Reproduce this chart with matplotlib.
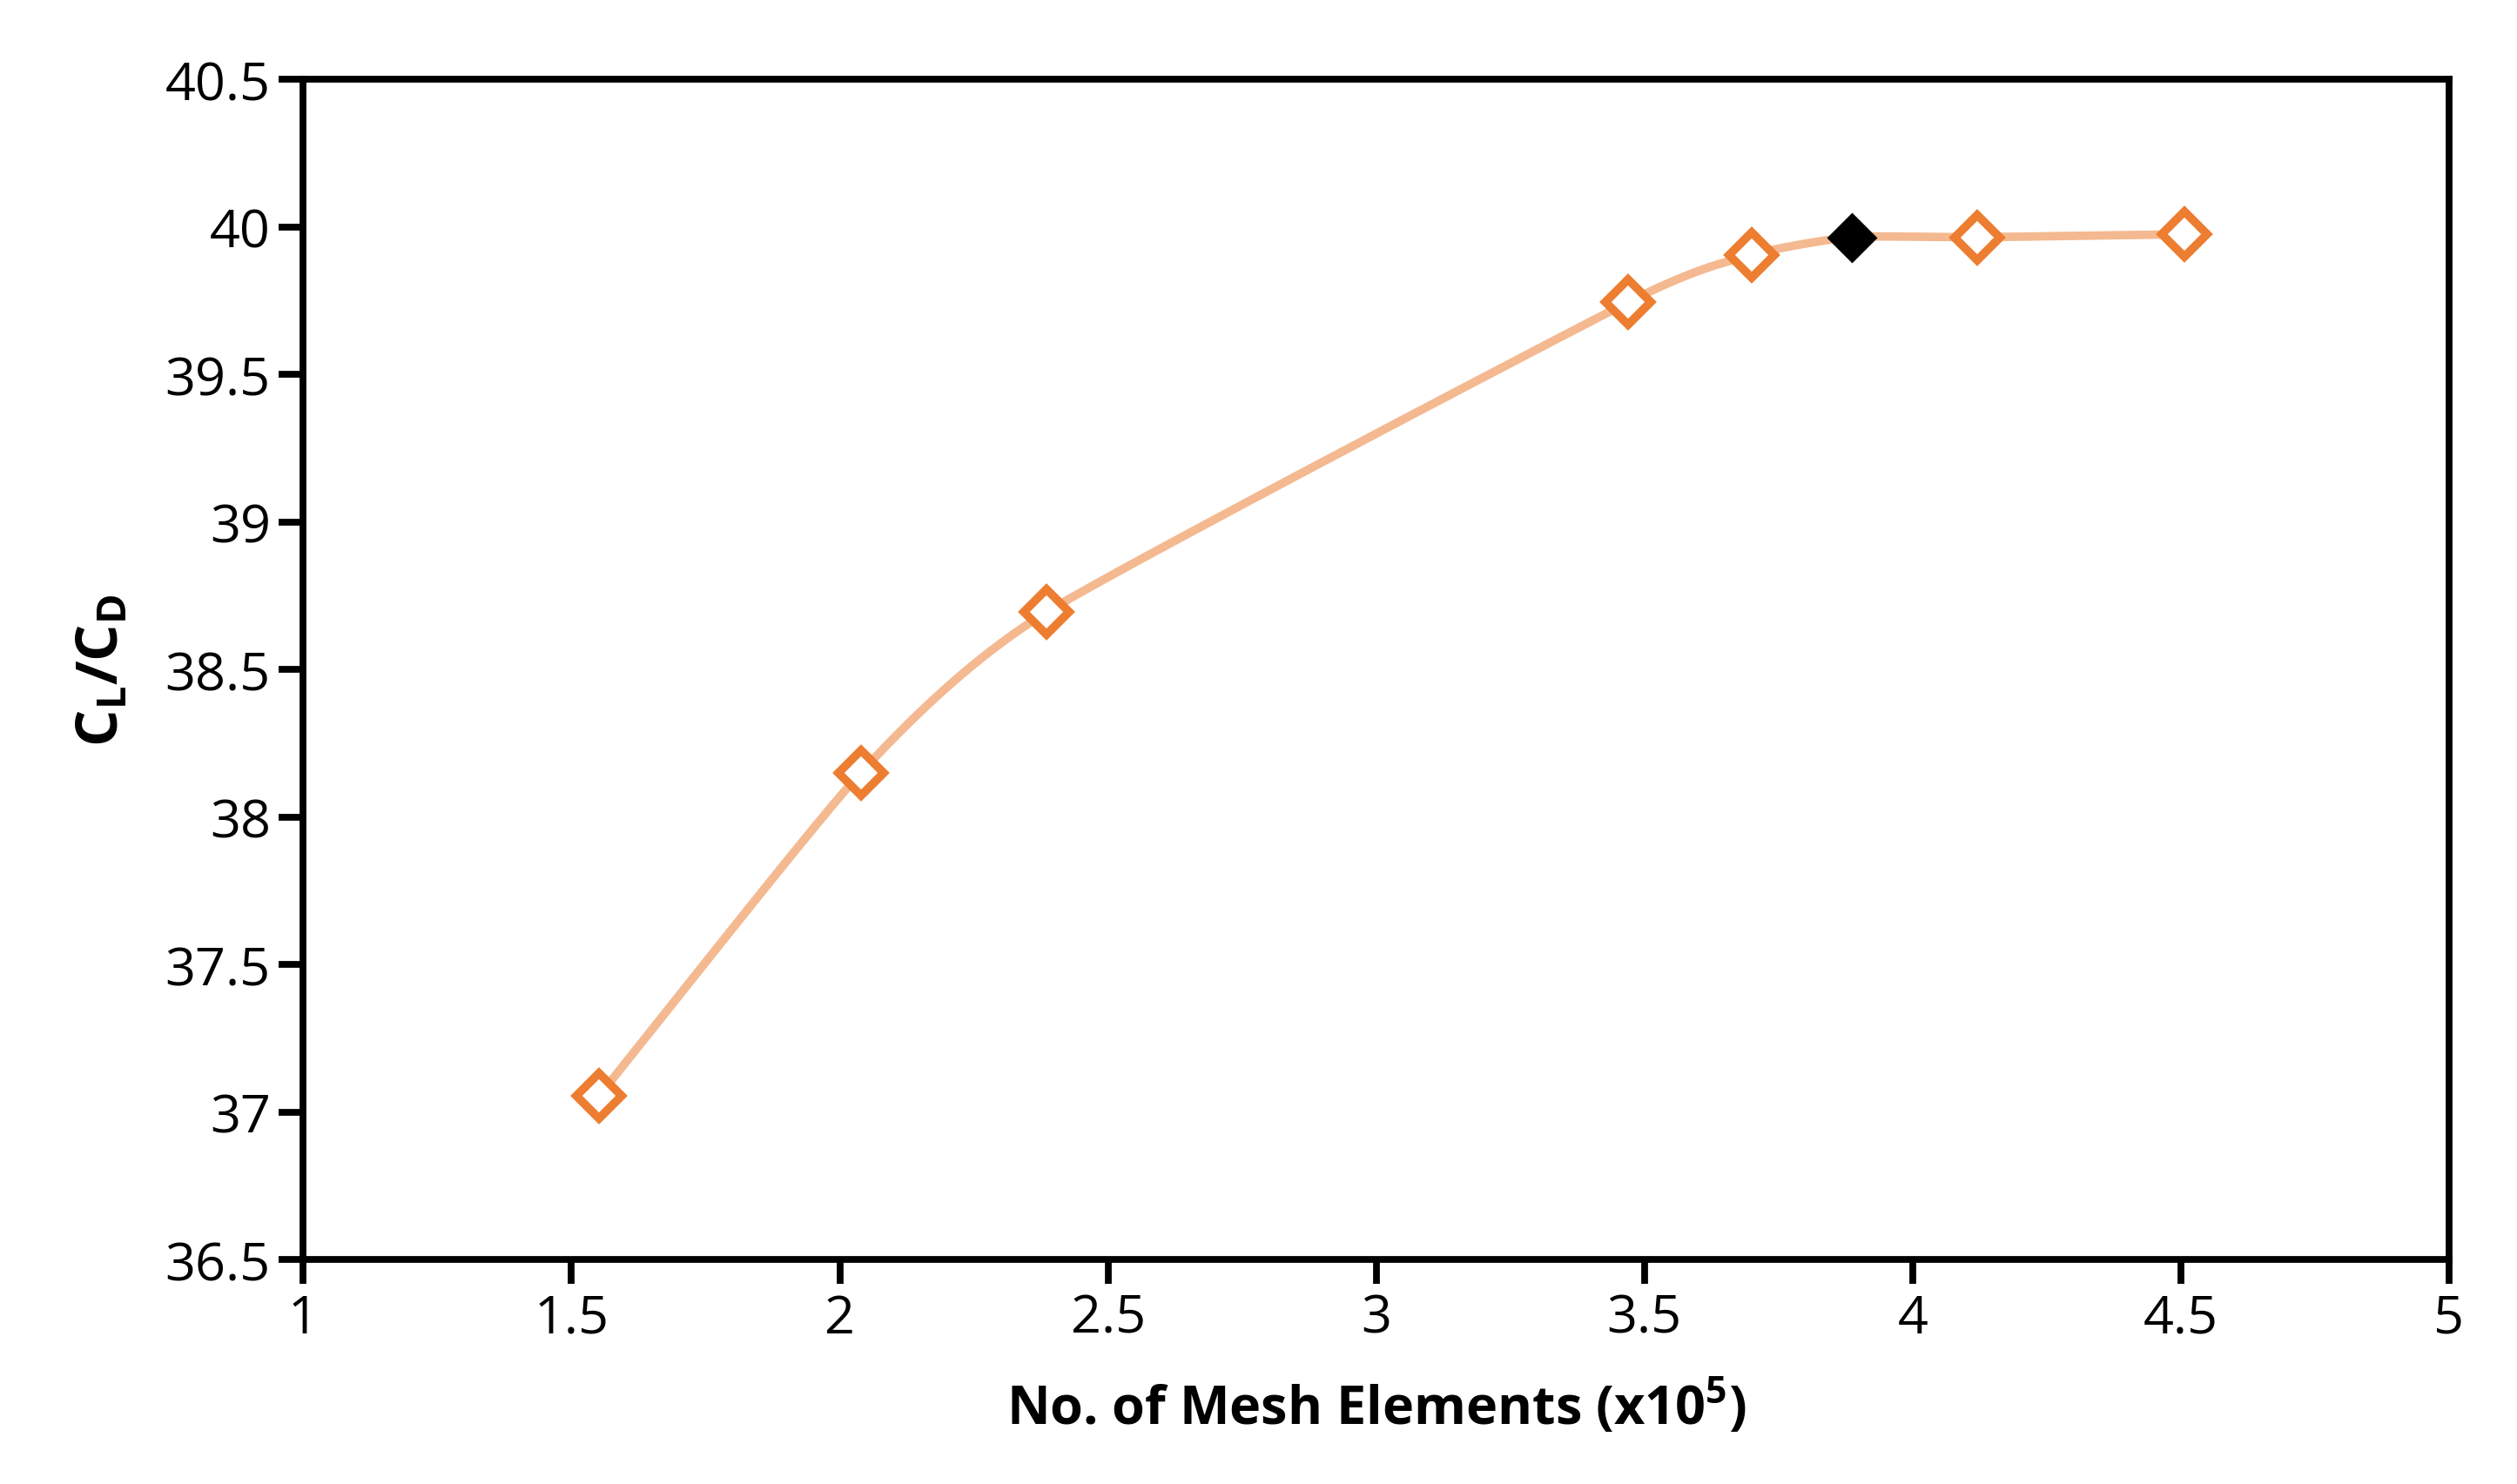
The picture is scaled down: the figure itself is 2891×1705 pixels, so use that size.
import numpy as np
import matplotlib.pyplot as plt

# mesh convergence data
mesh = [1.551, 2.039, 2.386, 3.470, 3.700, 3.886, 4.120, 4.506]
cl_cd = [37.055, 38.150, 38.695, 39.745, 39.905, 39.965, 39.965, 39.975]
chosen = 5  # index of the selected mesh (black marker)


def smooth(x, y, n=40):
    # Catmull-Rom style spline, similar to Excel's smoothed line
    x = np.asarray(x); y = np.asarray(y)
    px = np.concatenate([[2*x[0]-x[1]], x, [2*x[-1]-x[-2]]])
    py = np.concatenate([[2*y[0]-y[1]], y, [2*y[-1]-y[-2]]])
    xs, ys = [], []
    for i in range(1, len(px)-2):
        t = np.linspace(0, 1, n)
        for p, out in ((px, xs), (py, ys)):
            p0, p1, p2, p3 = p[i-1], p[i], p[i+1], p[i+2]
            m1 = (p2 - p0) / 2 * 0.6
            m2 = (p3 - p1) / 2 * 0.6
            h00 = 2*t**3 - 3*t**2 + 1; h10 = t**3 - 2*t**2 + t
            h01 = -2*t**3 + 3*t**2; h11 = t**3 - t**2
            out.extend(h00*p1 + h10*m1 + h01*p2 + h11*m2)
    return xs, ys


plt.rcParams['font.family'] = ['Open Sans', 'DejaVu Sans']
plt.rcParams['mathtext.default'] = 'regular'
fig = plt.figure(figsize=(14.455, 8.53), dpi=200)
ax = fig.add_axes([0.1205, 0.151, 0.8525, 0.795])

sx, sy = smooth(mesh, cl_cd)
ax.plot(sx, sy, color='#f4b990', lw=3.5, zorder=1)
others = [i for i in range(len(mesh)) if i != chosen]
ax.plot([mesh[i] for i in others], [cl_cd[i] for i in others], 'D', ms=13,
        mfc='white', mec='#ed7d31', mew=3.5, ls='none', zorder=2)
ax.plot(mesh[chosen], cl_cd[chosen], 'D', ms=14, color='black', zorder=3)

ax.set_xlim(1, 5)
ax.set_ylim(36.5, 40.5)
ax.set_xticks(np.arange(1, 5.01, 0.5))
ax.set_xticklabels(['1', '1.5', '2', '2.5', '3', '3.5', '4', '4.5', '5'])
ax.set_yticks(np.arange(36.5, 40.51, 0.5))
ax.set_yticklabels(['36.5', '37', '37.5', '38', '38.5', '39', '39.5', '40', '40.5'])
ax.tick_params(direction='out', length=10, width=2.8, labelsize=22)
for s in ax.spines.values():
    s.set_linewidth(2.8)
ax.set_xlabel('No. of Mesh Elements (x10$^5$)', fontsize=22, fontweight='bold', labelpad=14)
ax.set_ylabel('C$_L$/C$_D$', fontsize=24, fontweight='bold', labelpad=14)

fig.savefig('out.png', dpi=200)
